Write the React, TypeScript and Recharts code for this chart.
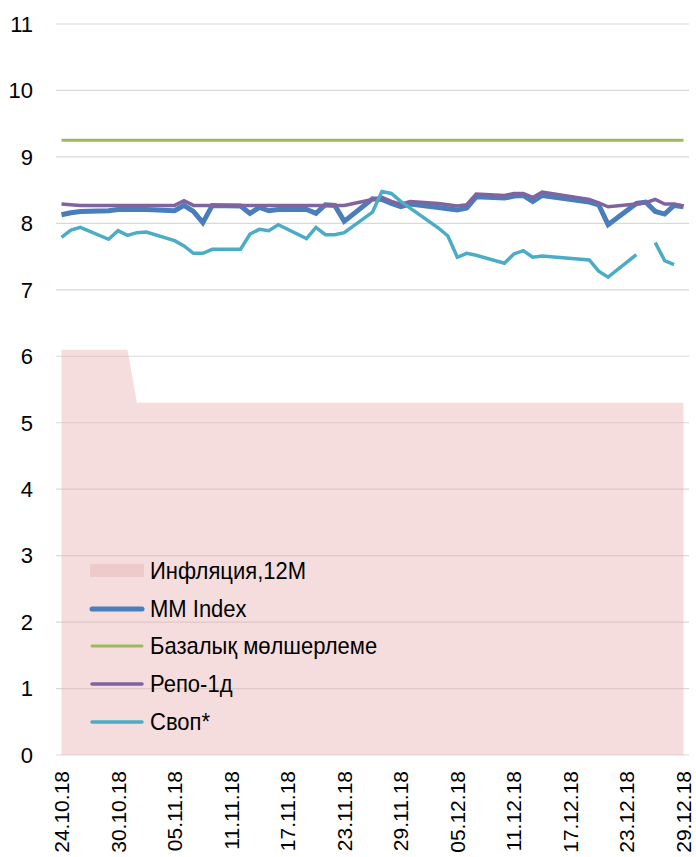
import {
  ComposedChart, Area, Line, XAxis, YAxis, CartesianGrid, Legend,
} from 'recharts';

// ─── Data ───────────────────────────────────────────────────
// day offsets from 24.10.18 (trading days)
const tradeDays = [
  0, 1, 2, 5, 6, 7, 8, 9, 12, 13, 14, 15, 16, 19, 20, 21, 22, 23,
  26, 27, 28, 29, 30, 33, 34, 35, 36, 37, 40, 41, 42, 43, 44,
  47, 48, 49, 50, 51, 56, 57, 58, 61, 62, 63, 64, 65, 66,
];

const inflation = [
  6.1, 6.1, 6.1, 6.1, 6.1, 6.1, 5.3, 5.3, 5.3, 5.3, 5.3, 5.3, 5.3, 5.3, 5.3, 5.3, 5.3, 5.3,
  5.3, 5.3, 5.3, 5.3, 5.3, 5.3, 5.3, 5.3, 5.3, 5.3, 5.3, 5.3, 5.3, 5.3, 5.3,
  5.3, 5.3, 5.3, 5.3, 5.3, 5.3, 5.3, 5.3, 5.3, 5.3, 5.3, 5.3, 5.3, 5.3,
];

const mmIndex = [
  8.13, 8.16, 8.18, 8.19, 8.21, 8.21, 8.21, 8.21, 8.19, 8.27, 8.18, 8.01, 8.27, 8.26, 8.15, 8.24, 8.19, 8.21,
  8.21, 8.15, 8.28, 8.27, 8.03, 8.37, 8.36, 8.30, 8.25, 8.29, 8.24, 8.22, 8.20, 8.23, 8.40,
  8.38, 8.41, 8.42, 8.33, 8.42, 8.32, 8.28, 7.98, 8.30, 8.32, 8.18, 8.14, 8.27, 8.25,
];

const baseRate = tradeDays.map(() => 9.25);

const repo = [
  8.29, 8.28, 8.27, 8.27, 8.27, 8.27, 8.27, 8.27, 8.27, 8.34, 8.27, 8.27, 8.27, 8.27, 8.27, 8.27, 8.27, 8.27,
  8.27, 8.27, 8.27, 8.27, 8.27, 8.36, 8.39, 8.33, 8.29, 8.33, 8.30, 8.28, 8.26, 8.28, 8.44,
  8.42, 8.45, 8.45, 8.39, 8.47, 8.36, 8.31, 8.25, 8.29, 8.31, 8.36, 8.29, 8.29, 8.26,
];

const swap = [
  7.79, 7.90, 7.94, 7.76, 7.89, 7.82, 7.86, 7.87, 7.74, 7.66, 7.55, 7.55, 7.61, 7.61, 7.84, 7.91, 7.89, 7.98,
  7.77, 7.94, 7.83, 7.83, 7.86, 8.17, 8.48, 8.45, 8.33, 8.23, 7.93, 7.81, 7.49, 7.55, 7.52,
  7.40, 7.54, 7.59, 7.49, 7.51, 7.45, 7.28, 7.19, 7.53, null, 7.71, 7.44, 7.38, null,
];

const tickDays = [0, 6, 12, 18, 24, 30, 36, 42, 48, 54, 60, 66];
const tickLabels = [
  '24.10.18', '30.10.18', '05.11.18', '11.11.18', '17.11.18', '23.11.18',
  '29.11.18', '05.12.18', '11.12.18', '17.12.18', '23.12.18', '29.12.18',
];
const yTicks = [0, 1, 2, 3, 4, 5, 6, 7, 8, 9, 10, 11];

const data = tradeDays.map((day, i) => ({
  day,
  inflation: inflation[i],
  mm: mmIndex[i],
  base: baseRate[i],
  repo: repo[i],
  swap: swap[i],
}));

const FONT = '"Liberation Sans", Arial, sans-serif';
const PINK = '#E8B4B4';

const legendItems = [
  { name: 'Инфляция,12М', color: PINK, kind: 'rect', width: 0 },
  { name: 'MM Index', color: '#4A7EBB', kind: 'line', width: 5 },
  { name: 'Базалық мөлшерлеме', color: '#9BBB59', kind: 'line', width: 3 },
  { name: 'Репо-1д', color: '#8064A2', kind: 'line', width: 3.5 },
  { name: 'Своп*', color: '#4BACC6', kind: 'line', width: 3.5 },
];

// ─── Legend ─────────────────────────────────────────────────
function ChartLegend() {
  return (
    <div style={{ fontFamily: FONT, fontSize: 22, color: '#000' }}>
      {legendItems.map(it => (
        <div key={it.name} style={{ display: 'flex', alignItems: 'center', height: 37.8 }}>
          <svg width={56} height={16} style={{ marginRight: 5 }}>
            {it.kind === 'rect'
              ? <rect x={1} y={1} width={54} height={13} fill={it.color} fillOpacity={0.45} />
              : <line x1={3} x2={53} y1={8} y2={8} stroke={it.color} strokeWidth={it.width} strokeLinecap="round" />}
          </svg>
          <span style={{ whiteSpace: 'nowrap', display: 'inline-block', transform: 'scaleY(1.1)' }}>{it.name}</span>
        </div>
      ))}
    </div>
  );
}

function DateTick({ x, y, payload }: { x?: number; y?: number; payload?: { value: number } }) {
  const idx = tickDays.indexOf(payload?.value ?? -1);
  return (
    <text
      x={0} y={0}
      transform={`translate(${x},${y}) rotate(-90)`}
      textAnchor="end"
      dominantBaseline="central"
      fontFamily={FONT}
      fontSize={21}
      fill="#000"
    >
      {tickLabels[idx]}
    </text>
  );
}

export default function App() {
  return (
    <div style={{ position: 'absolute', left: 0, top: 0, width: 696, height: 857, background: '#fff' }}>
      <ComposedChart width={696} height={857} data={data} margin={{ top: 24, right: 7, bottom: 0, left: 0 }}>
        <CartesianGrid vertical={false} stroke="#D9D9D9" strokeWidth={1.2} />
        <XAxis
          dataKey="day"
          type="number"
          domain={[0, 66]}
          ticks={tickDays}
          padding={{ left: 5.5, right: 5.5 }}
          axisLine={false}
          tickLine={false}
          tickSize={0}
          tickMargin={16}
          height={102}
          interval={0}
          tick={<DateTick />}
        />
        <YAxis
          domain={[0, 11]}
          ticks={yTicks}
          width={56}
          axisLine={false}
          tickLine={false}
          tickSize={0}
          tickMargin={23}
          interval={0}
          tick={{ fontSize: 22, fill: '#000', fontFamily: FONT }}
        />
        <Area
          dataKey="inflation"
          type="linear"
          fill={PINK}
          fillOpacity={0.45}
          stroke="none"
          isAnimationActive={false}
        />
        <Line dataKey="mm" type="linear" stroke="#4A7EBB" strokeWidth={5} dot={false} isAnimationActive={false} />
        <Line dataKey="base" type="linear" stroke="#9BBB59" strokeWidth={3} dot={false} isAnimationActive={false} />
        <Line dataKey="repo" type="linear" stroke="#8064A2" strokeWidth={3.5} dot={false} isAnimationActive={false} />
        <Line dataKey="swap" type="linear" stroke="#4BACC6" strokeWidth={3.5} dot={false} isAnimationActive={false} />
        <Legend
          layout="vertical"
          align="center"
          verticalAlign="middle"
          content={<ChartLegend />}
          wrapperStyle={{ left: 89, top: 552, width: 320 }}
        />
      </ComposedChart>
    </div>
  );
}
